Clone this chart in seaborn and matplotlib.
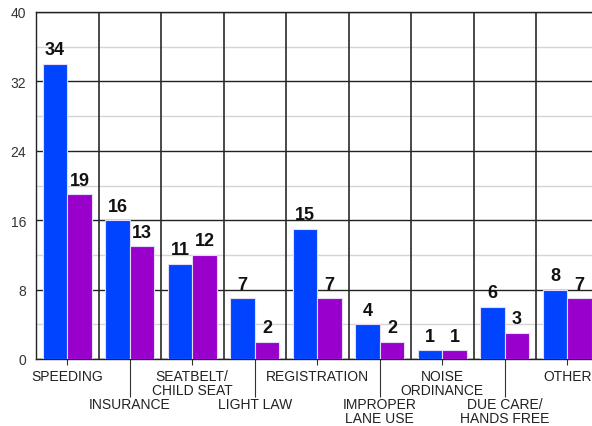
import pandas as pd
import numpy as np
import matplotlib.pyplot as plt
import seaborn as sns

categories = ['SPEEDING', 'INSURANCE', 'SEATBELT/\nCHILD SEAT', 'LIGHT LAW',
              'REGISTRATION', 'IMPROPER\nLANE USE', 'NOISE\nORDINANCE',
              'DUE CARE/\nHANDS FREE', 'OTHER']
series_a = [34, 16, 11, 7, 15, 4, 1, 6, 8]
series_b = [19, 13, 12, 2, 7, 2, 1, 3, 7]
series_names = ['Series A', 'Series B']
colors = ['#0044FF', '#9900CC']

df = pd.DataFrame({
    'Category': categories * 2,
    'Count': series_a + series_b,
    'Series': [series_names[0]] * len(categories) + [series_names[1]] * len(categories),
})

sns.set_style('white')
plt.rcParams['font.family'] = ['Liberation Sans', 'DejaVu Sans']

fig = plt.figure(figsize=(5.92, 4.27), dpi=100)
ax = fig.add_axes([36 / 592, 67 / 427, 562.5 / 592, 347 / 427])

sns.barplot(data=df, x='Category', y='Count', hue='Series', palette=colors,
            saturation=1, width=0.78, edgecolor='#e4dcf4', linewidth=0.8,
            legend=False, ax=ax, zorder=3)

for cont in ax.containers:
    ax.bar_label(cont, padding=4, fontsize=13, fontweight='bold', color='#111111')

# y axis: major black grid every 8, light minor every 4
ax.set_ylim(0, 40)
ax.set_yticks(np.arange(0, 41, 8))
ax.set_yticks(np.arange(4, 40, 8), minor=True)
ax.grid(axis='y', which='major', color='#222222', linewidth=1.0, zorder=1)
ax.grid(axis='y', which='minor', color='#d4d4d4', linewidth=1.0, zorder=1)
ax.tick_params(axis='y', which='major', length=5, width=0.8, color='#333333',
               labelsize=10, labelcolor='#333333', pad=2)
ax.tick_params(axis='y', which='minor', length=0)

# vertical separators between categories
n = len(categories)
ax.set_xlim(-0.5, n - 0.5)
for i in range(n - 1):
    ax.axvline(i + 0.5, color='#2a2a2a', linewidth=1.2, zorder=1)

# staggered category labels: even on major ticks, odd on long minor ticks
pos = np.arange(n)
ax.set_xticks(pos[::2], [categories[i] for i in pos[::2]])
ax.set_xticks(pos[1::2], [categories[i] for i in pos[1::2]], minor=True)
ax.tick_params(axis='x', which='major', length=4, width=0.8, color='#333333',
               labelsize=10, labelcolor='#222222', pad=3.5, bottom=True)
ax.tick_params(axis='x', which='minor', length=27, width=0.8, color='#333333',
               labelsize=10, labelcolor='#222222', pad=0.5, bottom=True)
for lab in ax.get_xticklabels(minor=True) + ax.get_xticklabels():
    lab.set_linespacing(1.0)

ax.set_xlabel('')
ax.set_ylabel('')
for side in ['left', 'bottom', 'top']:
    ax.spines[side].set_color('#222222')
    ax.spines[side].set_linewidth(1.0)
ax.spines['right'].set_visible(False)

plt.savefig('out.png', dpi=100)
